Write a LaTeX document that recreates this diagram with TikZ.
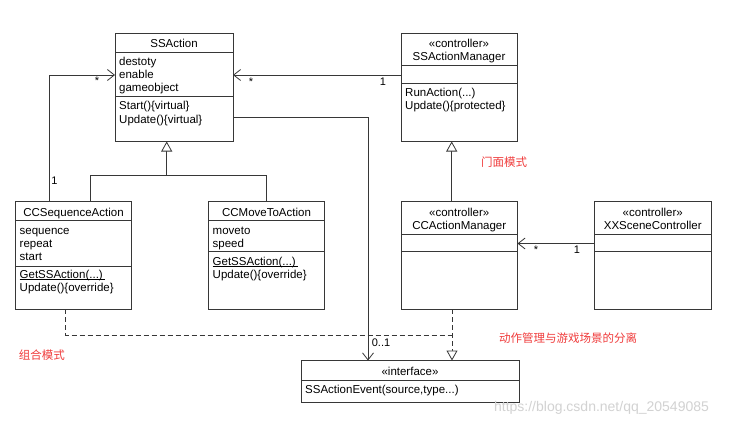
\documentclass[tikz,border=0pt]{standalone}
\usepackage{fontspec}
\setmainfont{Liberation Sans}
\newfontfamily\cjk{Noto Sans CJK SC}
\usetikzlibrary{arrows.meta}
\definecolor{linegray}{RGB}{55,55,55}
\definecolor{notered}{RGB}{240,60,60}

\begin{document}
\begin{tikzpicture}[x=1pt,y=-1pt,
  cls/.style={draw=linegray, line width=0.8pt, minimum height=107.5pt, inner sep=0pt, outer sep=0pt},
  sep/.style={draw=linegray, line width=0.8pt},
  ttl/.style={anchor=base, inner sep=0pt, font=\fontsize{11.5}{13}\selectfont},
  txt/.style={anchor=base west, inner sep=0pt, font=\fontsize{11.5}{13}\selectfont},
  lbl/.style={inner sep=0pt, font=\fontsize{11}{13}\selectfont},
  note/.style={inner sep=0pt, text=notered, font=\cjk\fontsize{11.5}{13}\selectfont},
  assoc/.style={draw=linegray, line width=0.8pt, -{Straight Barb[length=7pt,width=11pt]}},
  inherit/.style={draw=linegray, line width=0.8pt, -{Triangle[open,length=10pt,width=11pt,fill=white]}},
  real/.style={draw=linegray, line width=0.8pt, dash pattern=on 5pt off 3pt}]
\fill[white] (0,0) rectangle (731,428);
\useasboundingbox (0,0) rectangle (731,428);

% class boxes
\node[cls, minimum width=118pt, minimum height=108.5pt] (ssa) at (174,87.25) {};
\node[cls, minimum width=116pt, minimum height=108.5pt] (ssam) at (459,87.25) {};
\node[cls, minimum width=116pt] (seq) at (73.5,255.25) {};
\node[cls, minimum width=116pt] (move) at (266.5,255.25) {};
\node[cls, minimum width=116.5pt] (ccam) at (459.25,255.25) {};
\node[cls, minimum width=116.5pt] (xx) at (652.75,255.25) {};
\node[cls, minimum width=218pt, minimum height=41.5pt] (iface) at (410,381.25) {};

% compartments
\draw[sep] ([yshift=-19.3pt]ssa.north west) -- ([yshift=-19.3pt]ssa.north east);
\draw[sep] ([yshift=-63.7pt]ssa.north west) -- ([yshift=-63.7pt]ssa.north east);
\draw[sep] ([yshift=-32pt]ssam.north west) -- ([yshift=-32pt]ssam.north east);
\draw[sep] ([yshift=-50.3pt]ssam.north west) -- ([yshift=-50.3pt]ssam.north east);
\draw[sep] ([yshift=-19.2pt]seq.north west) -- ([yshift=-19.2pt]seq.north east);
\draw[sep] ([yshift=-64.5pt]seq.north west) -- ([yshift=-64.5pt]seq.north east);
\draw[sep] ([yshift=-19.2pt]move.north west) -- ([yshift=-19.2pt]move.north east);
\draw[sep] ([yshift=-50.2pt]move.north west) -- ([yshift=-50.2pt]move.north east);
\draw[sep] ([yshift=-32.5pt]ccam.north west) -- ([yshift=-32.5pt]ccam.north east);
\draw[sep] ([yshift=-50.2pt]ccam.north west) -- ([yshift=-50.2pt]ccam.north east);
\draw[sep] ([yshift=-32.5pt]xx.north west) -- ([yshift=-32.5pt]xx.north east);
\draw[sep] ([yshift=-50.2pt]xx.north west) -- ([yshift=-50.2pt]xx.north east);
\draw[sep] ([yshift=-19.5pt]iface.north west) -- ([yshift=-19.5pt]iface.north east);

% SSAction
\node[ttl] (ssaname) at (174,48) {SSAction};
\node[txt] (ssaa1) at (119,65.5) {destoty};
\node[txt] (ssaa2) at (119,78.5) {enable};
\node[txt] (ssaa3) at (119,91.5) {gameobject};
\node[txt] (ssao1) at (119,110) {Start()\{virtual\}};
\node[txt] (ssao2) at (119,123) {Update()\{virtual\}};

% SSActionManager
\node[ttl] (ssamst) at (459,48) {«controller»};
\node[ttl] (ssamname) at (459,61) {SSActionManager};
\node[txt] (ssamo1) at (405,96.5) {RunAction(...)};
\node[txt] (ssamo2) at (405,109.5) {Update()\{protected\}};

% CCSequenceAction
\node[ttl] (seqname) at (73.5,216) {CCSequenceAction};
\node[txt] (seqa1) at (19.5,234) {sequence};
\node[txt] (seqa2) at (19.5,247) {repeat};
\node[txt] (seqa3) at (19.5,260) {start};
\node[txt] (seqo1) at (19.5,278) {GetSSAction(...)\,};
\node[txt] (seqo2) at (19.5,291) {Update()\{override\}};
\draw[line width=0.7pt] ([yshift=-1.6pt]seqo1.base west) -- ([yshift=-1.6pt]seqo1.base east);

% CCMoveToAction
\node[ttl] (movename) at (266.5,216) {CCMoveToAction};
\node[txt] (movea1) at (212.5,234) {moveto};
\node[txt] (movea2) at (212.5,247) {speed};
\node[txt] (moveo1) at (212.5,265) {GetSSAction(...)\,};
\node[txt] (moveo2) at (212.5,278) {Update()\{override\}};
\draw[line width=0.7pt] ([yshift=-1.6pt]moveo1.base west) -- ([yshift=-1.6pt]moveo1.base east);

% CCActionManager, XXSceneController
\node[ttl] (ccamst) at (459.25,216) {«controller»};
\node[ttl] (ccamname) at (459.25,229.5) {CCActionManager};
\node[ttl] (xxst) at (652.75,216) {«controller»};
\node[ttl] (xxname) at (652.75,229.5) {XXSceneController};

% interface
\node[ttl] (ifacest) at (410,375.5) {«interface»};
\node[txt] (ifaceo1) at (305,393) {SSActionEvent(source,type...)};

% connectors
\coordinate (fork) at (166.7,175);
\coordinate (meet) at (452,335);
\draw[assoc] ([yshift=-42pt]ssam.north west) -- ([yshift=-42pt]ssa.north east);
\draw[assoc] ([xshift=33.5pt]seq.north west) |- ([yshift=-42pt]ssa.north west);
\draw[sep] ([xshift=75pt]seq.north west) |- (fork);
\draw[sep] (fork) -| (move.north);
\draw[inherit] (fork) -- (fork |- ssa.south);
\draw[inherit] ([xshift=50.7pt]ccam.north west) -- ([xshift=50.7pt]ssam.south west);
\draw[assoc] ([yshift=-42pt]xx.north west) -- ([yshift=-42pt]ccam.north east);
\draw[assoc] ([yshift=-84pt]ssa.north east) -| ([xshift=67pt]iface.north west);
\draw[real] ([xshift=50pt]seq.south west) |- (meet);
\draw[real, -{Triangle[open,length=10pt,width=11pt,fill=white]}] ([xshift=51pt]ccam.south west) -- ([xshift=151pt]iface.north west);

% multiplicities
\node[lbl] (m1) at (383,82) {1};
\node[lbl] (m2) at (251,81.5) {*};
\node[lbl] (m3) at (97,81) {*};
\node[lbl] (m4) at (54.5,181) {1};
\node[lbl] (m5) at (536,249.5) {*};
\node[lbl] (m6) at (577,250) {1};
\node[lbl] (m7) at (381,343) {0..1};

% notes
\node[note] (n1) at (504,161.7) {门面模式};
\node[note] (n2) at (42,355) {组合模式};
\node[note] (n3) at (568,338.3) {动作管理与游戏场景的分离};
\node[inner sep=0pt, text=gray!35, font=\fontsize{14}{16}\selectfont] (mark) at (601.5,408) {https://blog.csdn.net/qq\_20549085};
\end{tikzpicture}
\end{document}
